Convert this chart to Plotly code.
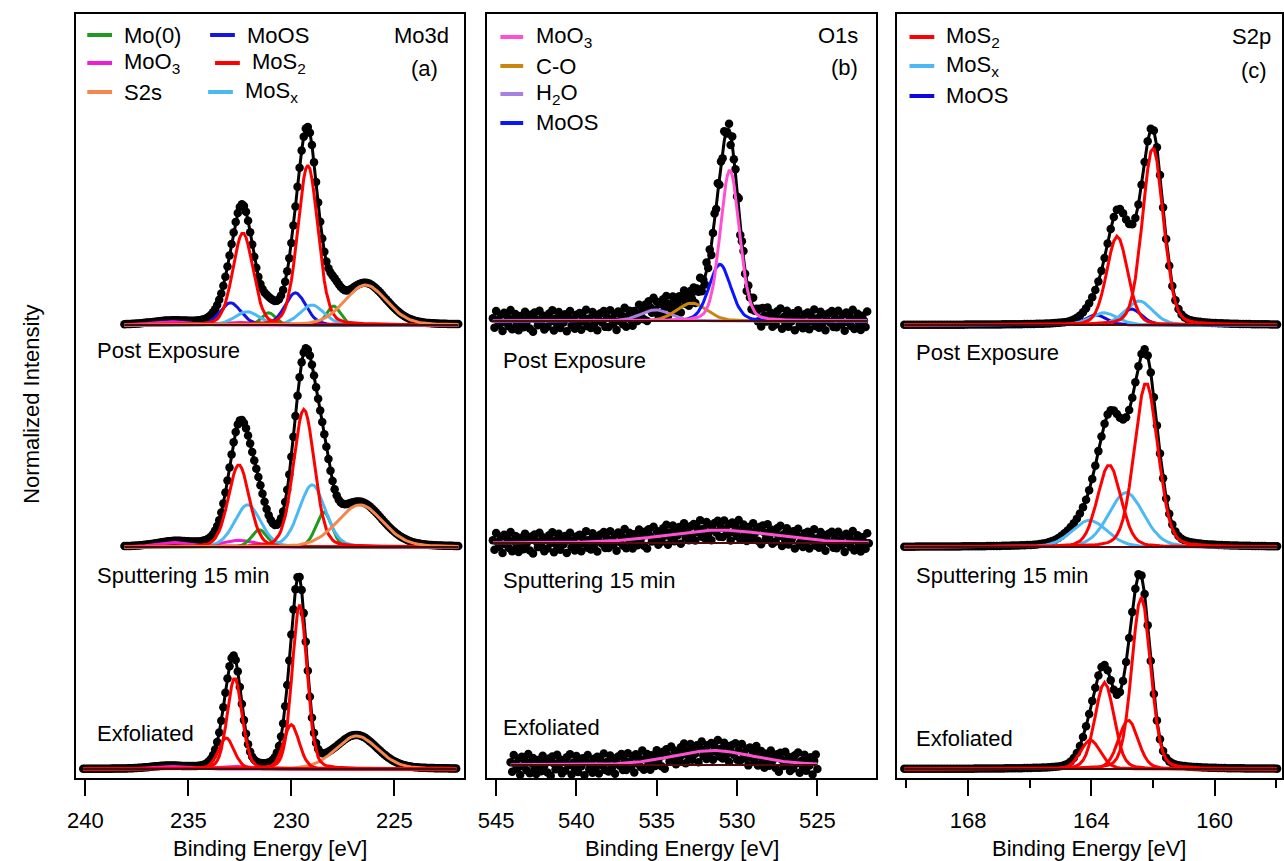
import numpy as np
import plotly.graph_objects as go

W, H = 1284, 861
FONT = "Arial, Liberation Sans, sans-serif"

# ---------------- data ----------------
# vertical offsets of the stacked spectra (normalized units)
SPECTRA = ["Exfoliated", "Sputtering 15 min", "Post Exposure"]
OFFSETS = [0.0, 1.0, 2.0]
STEP_EV = 0.1
LORENTZ_FRACTION = 0.2

# ---- Mo3d (a) ----
mo3d_ticks = [240, 235, 230, 225]
mo3d_ranges = [[240.1, 222.0], [238.1, 221.9], [238.1, 221.9]]   # Exf, Sput, Post

mo3d_exf_species = ["MoO3", "S2s", "MoS2", "MoS2"]
mo3d_exf_centers = [[232.9, 236.0], [226.83], [230.0, 233.16], [229.6, 232.75]]
mo3d_exf_heights = [[0.012, 0.012], [0.149], [0.20, 0.14], [0.74, 0.41]]
mo3d_exf_fwhm = [2.0, 2.4, 0.9, 0.85]

mo3d_sput_species = ["MoO3", "Mo(0)", "MoSx", "MoS2", "S2s"]
mo3d_sput_centers = [[232.6, 235.7], [228.43, 231.55], [228.99, 232.12], [229.39, 232.55], [226.67]]
mo3d_sput_heights = [[0.03, 0.02], [0.158, 0.077], [0.28, 0.19], [0.62, 0.37], [0.19]]
mo3d_sput_fwhm = [2.0, 0.9, 1.5, 1.2, 2.6]

mo3d_post_species = ["MoO3", "Mo(0)", "MoOS", "MoSx", "MoS2", "S2s"]
mo3d_post_centers = [[232.7, 235.85], [227.95, 231.1], [229.8, 232.95], [229.0, 232.15], [229.2, 232.35], [226.4]]
mo3d_post_heights = [[0.012, 0.015], [0.085, 0.055], [0.145, 0.10], [0.09, 0.06], [0.72, 0.415], [0.18]]
mo3d_post_fwhm = [2.2, 0.8, 1.2, 1.4, 1.15, 2.4]

# ---- O1s (b) ----
o1s_ticks = [545, 540, 535, 530, 525]
o1s_ranges = [[544.1, 525.0], [545.2, 521.8], [545.2, 521.9]]

o1s_exf_species = ["MoO3"]
o1s_exf_centers = [[531.5]]
o1s_exf_heights = [[0.065]]
o1s_exf_fwhm = [6.0]

o1s_sput_species = ["MoO3"]
o1s_sput_centers = [[531.07]]
o1s_sput_heights = [[0.058]]
o1s_sput_fwhm = [8.0]

o1s_post_species = ["H2O", "C-O", "MoOS", "MoO3"]
o1s_post_centers = [[535.07], [532.82], [531.07], [530.45]]
o1s_post_heights = [[0.05], [0.081], [0.255], [0.68]]
o1s_post_fwhm = [2.2, 2.2, 1.6, 1.4]

# scatter of the noisy O1s points around the fit (estimated)
o1s_residual = [0.012, -0.031, 0.044, 0.003, -0.018, 0.027, -0.046, 0.036, -0.007, 0.019,
                -0.024, 0.049, -0.038, 0.008, 0.031, -0.013, -0.042, 0.022, 0.0, -0.029,
                0.041, -0.004, 0.015, -0.035, 0.028, -0.049, 0.037, 0.006, -0.02, 0.045,
                -0.011, 0.024, -0.039, 0.017, -0.027, 0.033, -0.002, 0.047, -0.044, 0.01,
                -0.016, 0.039, -0.033, 0.021, -0.008, 0.029, -0.048, 0.014, 0.043, -0.022,
                0.005, -0.037, 0.026, -0.014, 0.034, -0.041, 0.018, -0.005, 0.048, -0.026,
                0.009, -0.034, 0.038, -0.019, 0.025, -0.045, 0.002, 0.032, -0.01, 0.042, -0.03]

# ---- S2p (c) ----
s2p_ticks = [168, 164, 160]
s2p_ranges = [[170.07, 157.9], [170.07, 157.9], [170.07, 157.9]]

s2p_exf_species = ["MoS2", "MoS2"]
s2p_exf_centers = [[162.8, 164.03], [162.38, 163.57]]
s2p_exf_heights = [[0.22, 0.13], [0.775, 0.39]]
s2p_exf_fwhm = [0.75, 0.72]

s2p_sput_species = ["MoSx", "MoS2"]
s2p_sput_centers = [[162.87, 164.06], [162.22, 163.42]]
s2p_sput_heights = [[0.245, 0.12], [0.74, 0.37]]
s2p_sput_fwhm = [1.35, 0.9]

s2p_post_species = ["MoOS", "MoSx", "MoS2"]
s2p_post_centers = [[162.7, 163.85], [162.45, 163.6], [162.0, 163.16]]
s2p_post_heights = [[0.072, 0.045], [0.108, 0.055], [0.80, 0.40]]
s2p_post_fwhm = [0.8, 1.05, 0.8]

# ---------------- styles ----------------
COL_MO3D = {"Mo(0)": "#1e9a1e", "MoO3": "#f01ed2", "S2s": "#f4874b",
            "MoOS": "#1414e6", "MoS2": "#ff0000", "MoSx": "#4cb9f4"}
COL_O1S = {"MoO3": "#ff50d2", "C-O": "#c8870c", "H2O": "#a97fe0", "MoOS": "#0a14ff"}
COL_S2P = {"MoS2": "#ff0000", "MoSx": "#4cb9f4", "MoOS": "#0a0ae0"}

LABEL = {"Mo(0)": "Mo(0)", "MoO3": "MoO<sub>3</sub>", "S2s": "S2s", "MoOS": "MoOS",
         "MoS2": "MoS<sub>2</sub>", "MoSx": "MoS<sub>x</sub>", "C-O": "C-O", "H2O": "H<sub>2</sub>O"}


def peak(x, c, h, w):
    d = (x - c) / w
    g = np.exp(-4 * np.log(2) * d * d)
    lor = 1.0 / (1.0 + 4 * d * d)
    return h * ((1 - LORENTZ_FRACTION) * g + LORENTZ_FRACTION * lor)


panels = [
    dict(xa="x", ya="y", colors=COL_MO3D, ranges=mo3d_ranges, noisy=False,
         spectra=[(mo3d_exf_species, mo3d_exf_centers, mo3d_exf_heights, mo3d_exf_fwhm),
                  (mo3d_sput_species, mo3d_sput_centers, mo3d_sput_heights, mo3d_sput_fwhm),
                  (mo3d_post_species, mo3d_post_centers, mo3d_post_heights, mo3d_post_fwhm)]),
    dict(xa="x2", ya="y2", colors=COL_O1S, ranges=o1s_ranges, noisy=True,
         spectra=[(o1s_exf_species, o1s_exf_centers, o1s_exf_heights, o1s_exf_fwhm),
                  (o1s_sput_species, o1s_sput_centers, o1s_sput_heights, o1s_sput_fwhm),
                  (o1s_post_species, o1s_post_centers, o1s_post_heights, o1s_post_fwhm)]),
    dict(xa="x3", ya="y3", colors=COL_S2P, ranges=s2p_ranges, noisy=False,
         spectra=[(s2p_exf_species, s2p_exf_centers, s2p_exf_heights, s2p_exf_fwhm),
                  (s2p_sput_species, s2p_sput_centers, s2p_sput_heights, s2p_sput_fwhm),
                  (s2p_post_species, s2p_post_centers, s2p_post_heights, s2p_post_fwhm)]),
]

fig = go.Figure()

for p in panels:
    for k, (species, centers, heights, fwhm) in enumerate(p["spectra"]):
        off = OFFSETS[k]
        e0, e1 = p["ranges"][k]
        x = np.arange(e0, e1 - 1e-9, -STEP_EV)
        comps = []
        for sp, cs, hs, w in zip(species, centers, heights, fwhm):
            for c, h in zip(cs, hs):
                comps.append((sp, peak(x, c, h, w)))
        env = sum(y for _, y in comps)
        pts = env.copy()
        if p["noisy"]:
            res = np.array([o1s_residual[i % len(o1s_residual)] for i in range(len(x))])
            pts = env + res
        # measured points
        fig.add_trace(go.Scatter(x=x, y=pts + off, mode="markers", xaxis=p["xa"], yaxis=p["ya"],
                                 marker=dict(color="black", size=8.5), showlegend=False, hoverinfo="skip"))
        # envelope
        fig.add_trace(go.Scatter(x=x, y=env + off, mode="lines", xaxis=p["xa"], yaxis=p["ya"],
                                 line=dict(color="black", width=3), showlegend=False, hoverinfo="skip"))
        # components (one curve per fitted peak)
        for sp, y in comps:
            fig.add_trace(go.Scatter(x=x, y=y + off, mode="lines", xaxis=p["xa"], yaxis=p["ya"],
                                     line=dict(color=p["colors"][sp], width=3),
                                     showlegend=False, hoverinfo="skip"))
        # background line
        fig.add_trace(go.Scatter(x=[x[0], x[-1]], y=[off, off], mode="lines", xaxis=p["xa"], yaxis=p["ya"],
                                 line=dict(color="#4a0c0c", width=2), showlegend=False, hoverinfo="skip"))

# ---------------- layout ----------------
ydom = [(H - 778) / H, (H - 14) / H]
boxes = [(67, 458), (482, 874), (895, 1284)]
xranges = [[240.433, 221.635], [545.536, 521.362], [170.32, 157.81]]
yranges = [[-0.0405, 3.4009], [-0.0586, 3.383], [-0.0405, 3.4009]]
tickvals = [mo3d_ticks, o1s_ticks, s2p_ticks]

axis_common = dict(showline=True, mirror=True, linecolor="black", linewidth=2,
                   showgrid=False, zeroline=False)
layout = dict(width=W, height=H, margin=dict(l=0, r=0, t=0, b=0),
              paper_bgcolor="white", plot_bgcolor="white",
              font=dict(family=FONT, size=22, color="black"))
for i in range(3):
    sx = "" if i == 0 else str(i + 1)
    xa = dict(axis_common, domain=[boxes[i][0] / W, boxes[i][1] / W], range=xranges[i],
              anchor="y" + sx, tickvals=tickvals[i], ticks="outside", ticklen=16, tickwidth=2,
              tickcolor="black", tickfont=dict(family=FONT, size=22, color="black"),
              ticklabelstandoff=6)
    if i == 2:
        xa["minor"] = dict(ticks="outside", ticklen=8, tickwidth=2, tickcolor="black",
                           tickvals=[170, 166, 162, 158])
    ya = dict(axis_common, domain=ydom, range=yranges[i], anchor="x" + sx,
              ticks="", showticklabels=False)
    layout["xaxis" + sx] = xa
    layout["yaxis" + sx] = ya
fig.update_layout(**layout)


def P(x, y):
    return x / W, 1 - y / H


annotations = []
shapes = []


def text(x, y, s, anchor="left", size=22, angle=0):
    px_, py_ = P(x, y)
    annotations.append(dict(x=px_, y=py_, xref="paper", yref="paper", text=s, showarrow=False,
                            xanchor=anchor, yanchor="middle", textangle=angle,
                            font=dict(family=FONT, size=size, color="black")))


def swatch(x0, x1, y, color):
    a, b = P(x0, y)
    c, _ = P(x1, y)
    shapes.append(dict(type="line", xref="paper", yref="paper", x0=a, x1=c, y0=b, y1=b,
                       line=dict(color=color, width=4)))


# axis titles
for (l, r) in boxes:
    text((l + r) / 2, 848, "Binding Energy [eV]", anchor="center")
text(22, 404, "Normalized Intensity", anchor="center", size=22, angle=-90)

# legends
leg_a = [(78, 103, 113, 35, "Mo(0)"), (78, 103, 113, 63, "MoO3"), (78, 103, 113, 92, "S2s"),
         (202, 227, 237, 35, "MoOS"), (207, 232, 242, 63, "MoS2"), (200, 225, 235, 92, "MoSx")]
for x0, x1, tx, y, sp in leg_a:
    swatch(x0, x1, y, COL_MO3D[sp])
    text(tx, y, LABEL[sp])
for j, sp in enumerate(["MoO3", "C-O", "H2O", "MoOS"]):
    y = [37, 66, 94, 123][j]
    swatch(495, 518, y, COL_O1S[sp])
    text(529, y, LABEL[sp])
for j, sp in enumerate(["MoS2", "MoSx", "MoOS"]):
    y = [37, 66, 96][j]
    swatch(908, 933, y, COL_S2P[sp])
    text(943, y, LABEL[sp])

# panel ids
text(445, 36, "Mo3d", anchor="right")
text(418, 68, "(a)", anchor="center")
text(858, 36, "O1s", anchor="right")
text(842, 67, "(b)", anchor="center")
text(1275, 37, "S2p", anchor="right")
text(1256, 70, "(c)", anchor="center")

# spectrum labels
for x0, ys in [(86, [733, 575, 350]), (496, [727, 580, 360]), (913, [738, 575, 353])]:
    for name, y in zip(SPECTRA, ys):
        text(x0, y, name)

fig.update_layout(annotations=annotations, shapes=shapes)
fig.write_html("out.html")
